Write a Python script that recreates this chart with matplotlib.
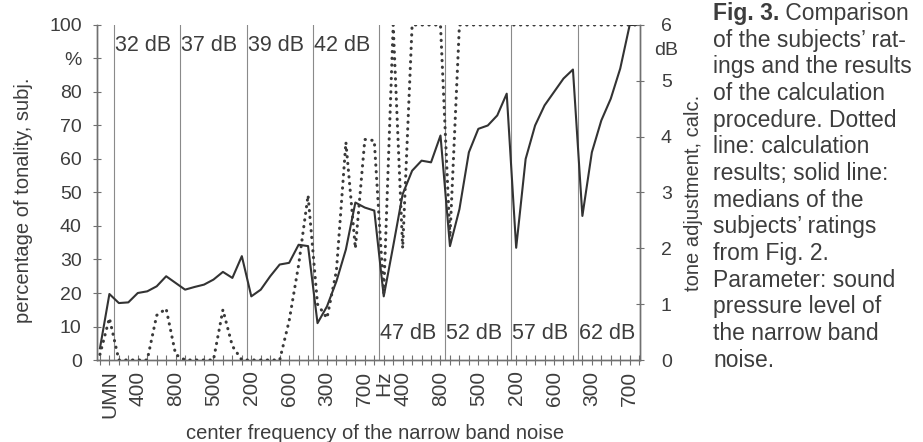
import matplotlib.pyplot as plt

plt.rcParams['font.family'] = ['Liberation Sans', 'DejaVu Sans']
ink = '#3d3d3d'

# sound pressure level of the narrow band noise, one block per level
levels = ['32 dB', '37 dB', '39 dB', '42 dB', '47 dB', '52 dB', '57 dB', '62 dB']
freqs = ['200', '300', '400', '500', '600', '700', '800']
categories = ['', 'UMN'] + [f for _ in levels for f in freqs]

# medians of the subjects' ratings, % tonality (solid, left axis)
subj = [3.5, 19.7,
        17, 17.2, 20, 20.5, 22, 25, 23,
        21, 21.8, 22.5, 24, 26.3, 24.5, 31,
        19, 21, 25, 28.5, 29, 34.4, 34,
        11, 16, 23.5, 33, 47, 45.5, 44.6,
        19, 34, 49.5, 56.5, 59.5, 59, 67,
        34, 45, 62, 69, 70, 73, 79.5,
        33.5, 60, 70, 76, 80, 84, 86.7,
        43, 62, 71.5, 78, 87, 100, 100]

# calculation results, tone adjustment in dB (dotted, right axis)
calc = [0.1, 0.75,
        0, 0, 0, 0, 0.8, 0.92, 0.1,
        0, 0, 0, 0, 0.9, 0.25, 0,
        0, 0, 0, 0, 0.7, 1.7, 2.95,
        1.0, 0.75, 1.6, 3.9, 2.0, 3.95, 3.93,
        1.2, 6, 2.0, 6, 6, 6, 6,
        2.2, 6, 6, 6, 6, 6, 6,
        6, 6, 6, 6, 6, 6, 6,
        6, 6, 6, 6, 6, 6, 6]

x = list(range(len(categories)))
shown = {1} | set(range(4, len(categories), 4))
xticklabels = [c if i in shown else '' for i, c in enumerate(categories)]
xticklabels[30] = 'Hz'

fig = plt.figure(figsize=(9.23, 4.42), dpi=100)
ax = fig.add_axes([0.105, 0.1855, 0.5885, 0.758])
ax2 = ax.twinx()

ax.plot(x, subj, color='#333333', lw=1.5, zorder=3)
ax2.plot(x, calc, color='#3a3a3a', lw=2.2, linestyle=(0, (0.1, 2.1)),
         dash_capstyle='round', zorder=3)

# block separators and level labels
for k, lev in enumerate(levels):
    xb = 1.5 + 7 * k
    ax.axvline(xb, color='#8a8a8a', lw=0.8, zorder=1)
    ypos = 94 if k < 4 else 8
    ax.text(xb + 0.1, ypos, lev, fontsize=15.5, color=ink, ha='left', va='center')

ax.set_xlim(-0.32, 57.1)
ax.set_ylim(0, 100)
ax2.set_ylim(0, 6)

ax.set_xticks(x)
ax.set_xticklabels(xticklabels, rotation=90, fontsize=15, color=ink)
ax.set_yticks(range(0, 101, 10))
ax.set_yticklabels(['0', '10', '20', '30', '40', '50', '60', '70', '80', '%', '100'],
                   fontsize=14, color=ink)
ax2.set_yticks(range(0, 7))
ax2.set_yticklabels([str(v) for v in range(7)], fontsize=14, color=ink)
ax2.text(1.025, 5.55, 'dB', transform=ax2.get_yaxis_transform(), fontsize=14,
         color=ink, ha='left', va='center')

for a in (ax, ax2):
    a.spines['top'].set_visible(False)
    for s in a.spines.values():
        s.set_color('#707070')
        s.set_linewidth(1.0)
ax.tick_params(axis='x', direction='inout', length=7, width=0.8, color='#707070', pad=4)
ax.tick_params(axis='y', direction='inout', length=6, width=0.8, color='#707070', pad=8)
ax2.tick_params(axis='y', direction='inout', length=6, width=0.8, color='#707070', pad=12)

ax.set_xlabel('center frequency of the narrow band noise', fontsize=14.5, color=ink, va='center')
ax.xaxis.set_label_coords(0.512, -0.218)
ax.set_ylabel('percentage of tonality, subj.', fontsize=14.5, color=ink, va='center')
ax.yaxis.set_label_coords(-0.135, 0.478)
ax2.set_ylabel('tone adjustment, calc.', fontsize=14.5, color=ink, va='center')
ax2.yaxis.set_label_coords(1.098, 0.5)

# figure caption
caption = ['of the subjects\u2019 rat-', 'ings and the results', 'of the calculation',
           'procedure. Dotted', 'line: calculation', 'results; solid line:',
           'medians of the', 'subjects\u2019 ratings', 'from Fig. 2.',
           'Parameter: sound', 'pressure level of', 'the narrow band', 'noise.']
cx = 713 / 923
t0 = fig.text(cx, 1 - 13.3 / 442, 'Fig. 3.', fontsize=16.5, fontweight='bold',
              color=ink, ha='left', va='center')
ax.annotate(' Comparison', xy=(1, 0.5), xycoords=t0, fontsize=16.5, color=ink,
            ha='left', va='center', annotation_clip=False)
for k, line in enumerate(caption, start=1):
    fig.text(cx, 1 - (13.3 + 26.7 * k) / 442, line, fontsize=16.5, color=ink,
             ha='left', va='center')

fig.savefig('out.png', dpi=100)
